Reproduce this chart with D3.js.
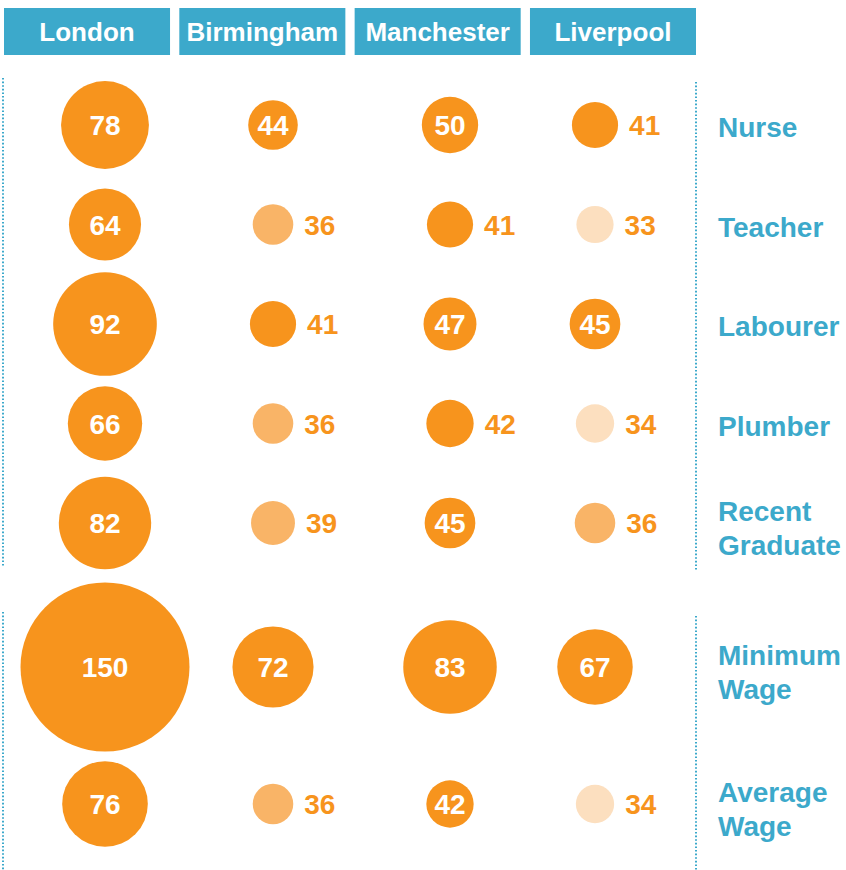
<!DOCTYPE html>
<html>
<head>
<meta charset="utf-8">
<script src="https://cdn.jsdelivr.net/npm/d3@7"></script>
<style>
  body { margin: 0; background: #fff; }
  text { font-family: "Liberation Sans", Arial, sans-serif; font-weight: bold; }
</style>
</head>
<body>
<div id="container"></div>
<script>
const width = 846,
  height = 870;

/** -------------- DATA -------------- */

const cities = ["London", "Birmingham", "Manchester", "Liverpool"];
const jobs = ["Nurse", "Teacher", "Labourer", "Plumber", "Recent Graduate", "Minimum Wage", "Average Wage"];
const jobGroup = [0, 0, 0, 0, 0, 1, 1];

const london = [78, 64, 92, 66, 82, 150, 76];
const birmingham = [44, 36, 41, 36, 39, 72, 36];
const manchester = [50, 41, 47, 42, 45, 83, 42];
const liverpool = [41, 33, 45, 34, 36, 67, 34];

// shade tier of each circle: 0 = full, 1 = medium, 2 = pale
const londonTier = [0, 0, 0, 0, 0, 0, 0];
const birminghamTier = [0, 1, 0, 1, 1, 0, 1];
const manchesterTier = [0, 0, 0, 0, 0, 0, 0];
const liverpoolTier = [0, 2, 0, 2, 1, 0, 2];

// where the number sits: 1 = inside the circle, 0 = to its right
const londonIn = [1, 1, 1, 1, 1, 1, 1];
const birminghamIn = [1, 0, 0, 0, 0, 1, 0];
const manchesterIn = [1, 0, 1, 0, 1, 1, 1];
const liverpoolIn = [0, 0, 1, 0, 0, 1, 0];

const values = [london, birmingham, manchester, liverpool];
const tiers = [londonTier, birminghamTier, manchesterTier, liverpoolTier];
const inside = [londonIn, birminghamIn, manchesterIn, liverpoolIn];

const cells = [];
jobs.forEach((job, i) => {
  cities.forEach((city, j) => {
    cells.push({ job, city, row: i, value: values[j][i], tier: tiers[j][i], inside: inside[j][i] === 1 });
  });
});

/** -------------- SCALES -------------- */

const blue = "#3ca9cb";
const orange = "#f7941d";
const color = d3.scaleOrdinal([0, 1, 2], [orange, "#f9b467", "#fcdfbf"]);

const r = d3.scaleLinear([0, 150], [0, 84.5]);

const headerX = d3.scaleBand(cities, [4, 696]).paddingInner(0.053).paddingOuter(0);
const circleX = d3.scaleOrdinal(cities, [105, 273, 450, 595]);

// row positions: the first group is a regular grid, the second one grows with its big circles
const startY = 75.25, groupMinHalf = [49.75, 52.5], groupGap = 9.75;
const rowY = [];
let cursor = startY;
jobs.forEach((job, i) => {
  const g = jobGroup[i];
  const half = g === 0 ? groupMinHalf[0] : Math.max(groupMinHalf[g], r(d3.max(values, v => v[i])));
  if (i > 0 && g !== jobGroup[i - 1]) cursor += groupGap;
  cursor += half;
  rowY.push(cursor);
  cursor += half;
});

/** -------------- DRAW -------------- */

const svg = d3.select("#container")
  .append("svg")
  .attr("width", width)
  .attr("height", height);

// header boxes
const header = svg.append("g")
  .selectAll("g")
  .data(cities)
  .join("g")
    .attr("transform", d => `translate(${headerX(d)}, 8)`);

header.append("rect")
    .attr("width", headerX.bandwidth())
    .attr("height", 47)
    .attr("fill", blue);

header.append("text")
    .attr("x", headerX.bandwidth() / 2)
    .attr("y", 24)
    .attr("dy", "0.36em")
    .attr("text-anchor", "middle")
    .attr("fill", "#fff")
    .attr("font-size", 26)
    .text(d => d);

// dotted group separators
const groups = d3.groups(jobs.map((d, i) => i), i => jobGroup[i]);
groups.forEach(([g, idx], k) => {
  const y0 = rowY[idx[0]] - (k === 0 ? 47 : 55);
  const y1 = k === groups.length - 1 ? height : rowY[idx[idx.length - 1]] + 43;
  [3, 696].forEach(x => {
    svg.append("line")
        .attr("x1", x).attr("x2", x)
        .attr("y1", x === 3 ? y0 : y0 + 4).attr("y2", x === 3 ? y1 : y1 + 4)
        .attr("stroke", blue)
        .attr("stroke-width", 2)
        .attr("stroke-dasharray", "1.6,2");
  });
});

// circles
const cell = svg.append("g")
  .selectAll("g")
  .data(cells)
  .join("g")
    .attr("transform", d => `translate(${circleX(d.city)}, ${rowY[d.row]})`);

cell.append("circle")
    .attr("r", d => r(d.value))
    .attr("fill", d => color(d.tier));

cell.append("text")
    .attr("x", d => d.inside ? 0 : r(d.value) + 11)
    .attr("dy", "0.36em")
    .attr("text-anchor", d => d.inside ? "middle" : "start")
    .attr("fill", d => d.inside ? "#fff" : orange)
    .attr("font-size", 28)
    .text(d => d.value);

// row labels
const label = svg.append("g")
  .selectAll("text")
  .data(jobs)
  .join("text")
    .attr("x", 718)
    .attr("y", (d, i) => rowY[i])
    .attr("fill", blue)
    .attr("font-size", 28);

label.each(function (d, i) {
  const words = d.split(" ");
  const t = d3.select(this);
  words.forEach((w, k) => {
    t.append("tspan")
        .attr("x", 718)
        .attr("y", rowY[i] + (words.length === 1 ? 2 : (k === 0 ? -12 : 22)))
        .attr("dy", "0.36em")
        .text(w);
  });
});
</script>
</body>
</html>
